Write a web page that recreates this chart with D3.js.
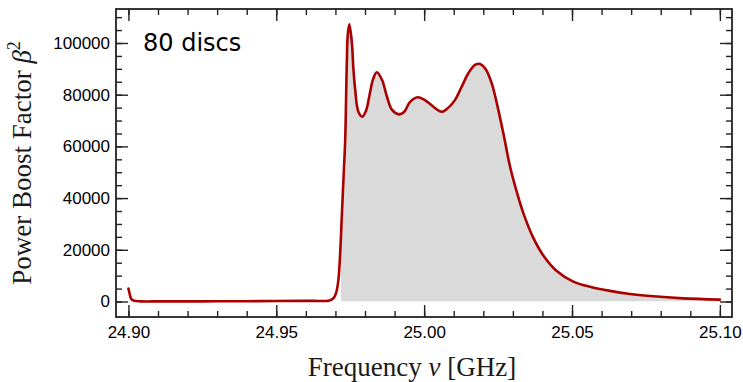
<!DOCTYPE html>
<html>
<head>
<meta charset="utf-8">
<script src="https://cdn.jsdelivr.net/npm/d3@7"></script>
<style>
  html, body { margin: 0; padding: 0; background: #fff; }
  svg { display: block; }
</style>
</head>
<body>
<svg id="chart" width="743" height="382"></svg>
<script>
// ---- data ----
const freq = [24.900, 24.9005, 24.901, 24.902, 24.904, 24.910, 24.920, 24.930, 24.940, 24.950, 24.958, 24.963, 24.966,
  24.9680, 24.9695, 24.9702, 24.9710, 24.9716, 24.9721, 24.9727, 24.9733, 24.97383, 24.97417, 24.97471,
  24.97553, 24.97607, 24.97664, 24.97776, 24.97911, 24.98043, 24.98157, 24.98273, 24.98398, 24.98577,
  24.98736, 24.98915, 24.99152, 24.99320, 24.99523, 24.99784, 24.99997, 25.00200, 25.00403, 25.00595,
  25.00808, 25.01045, 25.01282, 25.01494, 25.01721, 25.01890, 25.02076, 25.02285, 25.02431,
  25.02678, 25.02904, 25.03131, 25.03354, 25.03692, 25.04030, 25.04483, 25.05044, 25.05609, 25.06285,
  25.06961, 25.07637, 25.08753, 25.100];
const boost = [5000, 2600, 900, 250, 60, 40, 50, 80, 120, 180, 250, 250, 200,
  400, 1500, 3200, 8300, 18600, 31500, 47000, 62500, 91500, 103100, 107200,
  100500, 90200, 82500, 73400, 71500, 74100, 80100, 86000, 88700, 85700,
  79500, 74100, 72400, 73300, 77200, 79000, 78100, 76400, 74500, 73400,
  74900, 78000, 83400, 88300, 91500, 91900, 89900, 84400, 78000,
  65100, 52200, 42400, 34200, 24600, 17800, 11800, 7700, 5700, 4100,
  2900, 2100, 1200, 740];
const fillStart = 24.9719;
const xTicksMajor = [24.90, 24.95, 25.00, 25.05, 25.10];
const yTicksMajor = [0, 20000, 40000, 60000, 80000, 100000];
const label = "80 discs";

// ---- layout ----
const L = 116, R = 732, T = 9, B = 317;
const svg = d3.select("#chart");
const x = d3.scaleLinear().domain([24.8958, 25.1041]).range([L, R]);
const y = d3.scaleLinear().domain([-6000, 113150]).range([B, T]);

const pts = freq.map((f, i) => [f, boost[i]]);
const curve = d3.curveCatmullRom.alpha(0.5);

// clip for fill band
svg.append("clipPath").attr("id", "fillclip")
  .append("rect")
  .attr("x", x(fillStart)).attr("y", T)
  .attr("width", x(25.10) - x(fillStart)).attr("height", y(0) - T);

const area = d3.area()
  .x(d => x(d[0])).y0(y(0)).y1(d => y(d[1]))
  .curve(curve);
svg.append("path").datum(pts)
  .attr("d", area)
  .attr("fill", "#dadada")
  .attr("clip-path", "url(#fillclip)");

const line = d3.line()
  .x(d => x(d[0])).y(d => y(d[1]))
  .curve(curve);
svg.append("path").datum(pts)
  .attr("d", line)
  .attr("fill", "none")
  .attr("stroke", "#aa0000")
  .attr("stroke-width", 2.6)
  .attr("stroke-linejoin", "round")
  .attr("stroke-linecap", "round");

// ---- axes ----
const tickColor = "#222";
const xMinor = d3.range(24.90, 25.1001, 0.01).map(v => +v.toFixed(2));
const yMinor = d3.range(0, 110001, 5000);

function inward(axisGen, sel) {
  sel.call(axisGen);
  sel.select(".domain").remove();
  sel.selectAll("line").attr("stroke", tickColor).attr("stroke-width", 1.4);
}

// bottom
const bMinor = svg.append("g").attr("transform", `translate(0,${B})`);
inward(d3.axisBottom(x).tickValues(xMinor).tickSize(-6).tickFormat(""), bMinor);
const bMajor = svg.append("g").attr("transform", `translate(0,${B})`);
inward(d3.axisBottom(x).tickValues(xTicksMajor).tickSize(-12).tickFormat(d3.format(".2f")), bMajor);
bMajor.selectAll("text").attr("font-family", "'Liberation Sans', Arial, sans-serif").attr("font-size", 17).attr("fill", "#000")
  .attr("y", 21).attr("dy", "0");
// top
const tMinor = svg.append("g").attr("transform", `translate(0,${T})`);
inward(d3.axisTop(x).tickValues(xMinor).tickSize(-6).tickFormat(""), tMinor);
const tMajor = svg.append("g").attr("transform", `translate(0,${T})`);
inward(d3.axisTop(x).tickValues(xTicksMajor).tickSize(-12).tickFormat(""), tMajor);
// left
const lMinor = svg.append("g").attr("transform", `translate(${L},0)`);
inward(d3.axisLeft(y).tickValues(yMinor).tickSize(-6).tickFormat(""), lMinor);
const lMajor = svg.append("g").attr("transform", `translate(${L},0)`);
inward(d3.axisLeft(y).tickValues(yTicksMajor).tickSize(-12).tickFormat(d3.format("d")), lMajor);
lMajor.selectAll("text").attr("font-family", "'Liberation Sans', Arial, sans-serif").attr("font-size", 17).attr("fill", "#000")
  .attr("x", -6);
// right
const rMinor = svg.append("g").attr("transform", `translate(${R},0)`);
inward(d3.axisRight(y).tickValues(yMinor).tickSize(-6).tickFormat(""), rMinor);
const rMajor = svg.append("g").attr("transform", `translate(${R},0)`);
inward(d3.axisRight(y).tickValues(yTicksMajor).tickSize(-12).tickFormat(""), rMajor);

// frame
svg.append("rect").attr("x", L).attr("y", T).attr("width", R - L).attr("height", B - T)
  .attr("fill", "none").attr("stroke", tickColor).attr("stroke-width", 1.8);

// label
svg.append("text").attr("x", 143).attr("y", 51)
  .attr("font-family", "'DejaVu Sans', sans-serif").attr("font-size", 24).attr("fill", "#000")
  .text(label);

// axis titles
const serif = "'Liberation Serif', 'DejaVu Serif', serif";
const xt = svg.append("text").attr("x", 412).attr("y", 376).attr("text-anchor", "middle")
  .attr("font-family", serif).attr("font-size", 27).attr("fill", "#1a1a1a");
xt.append("tspan").text("Frequency ");
xt.append("tspan").attr("font-style", "italic").text("ν");
xt.append("tspan").text(" [GHz]");

const yt = svg.append("text").attr("transform", "translate(31,163) rotate(-90)").attr("text-anchor", "middle")
  .attr("font-family", serif).attr("font-size", 27).attr("fill", "#1a1a1a");
yt.append("tspan").text("Power Boost Factor ");
yt.append("tspan").attr("font-style", "italic").text("β");
yt.append("tspan").attr("font-size", 18).attr("dy", -11).text("2");
</script>
</body>
</html>
